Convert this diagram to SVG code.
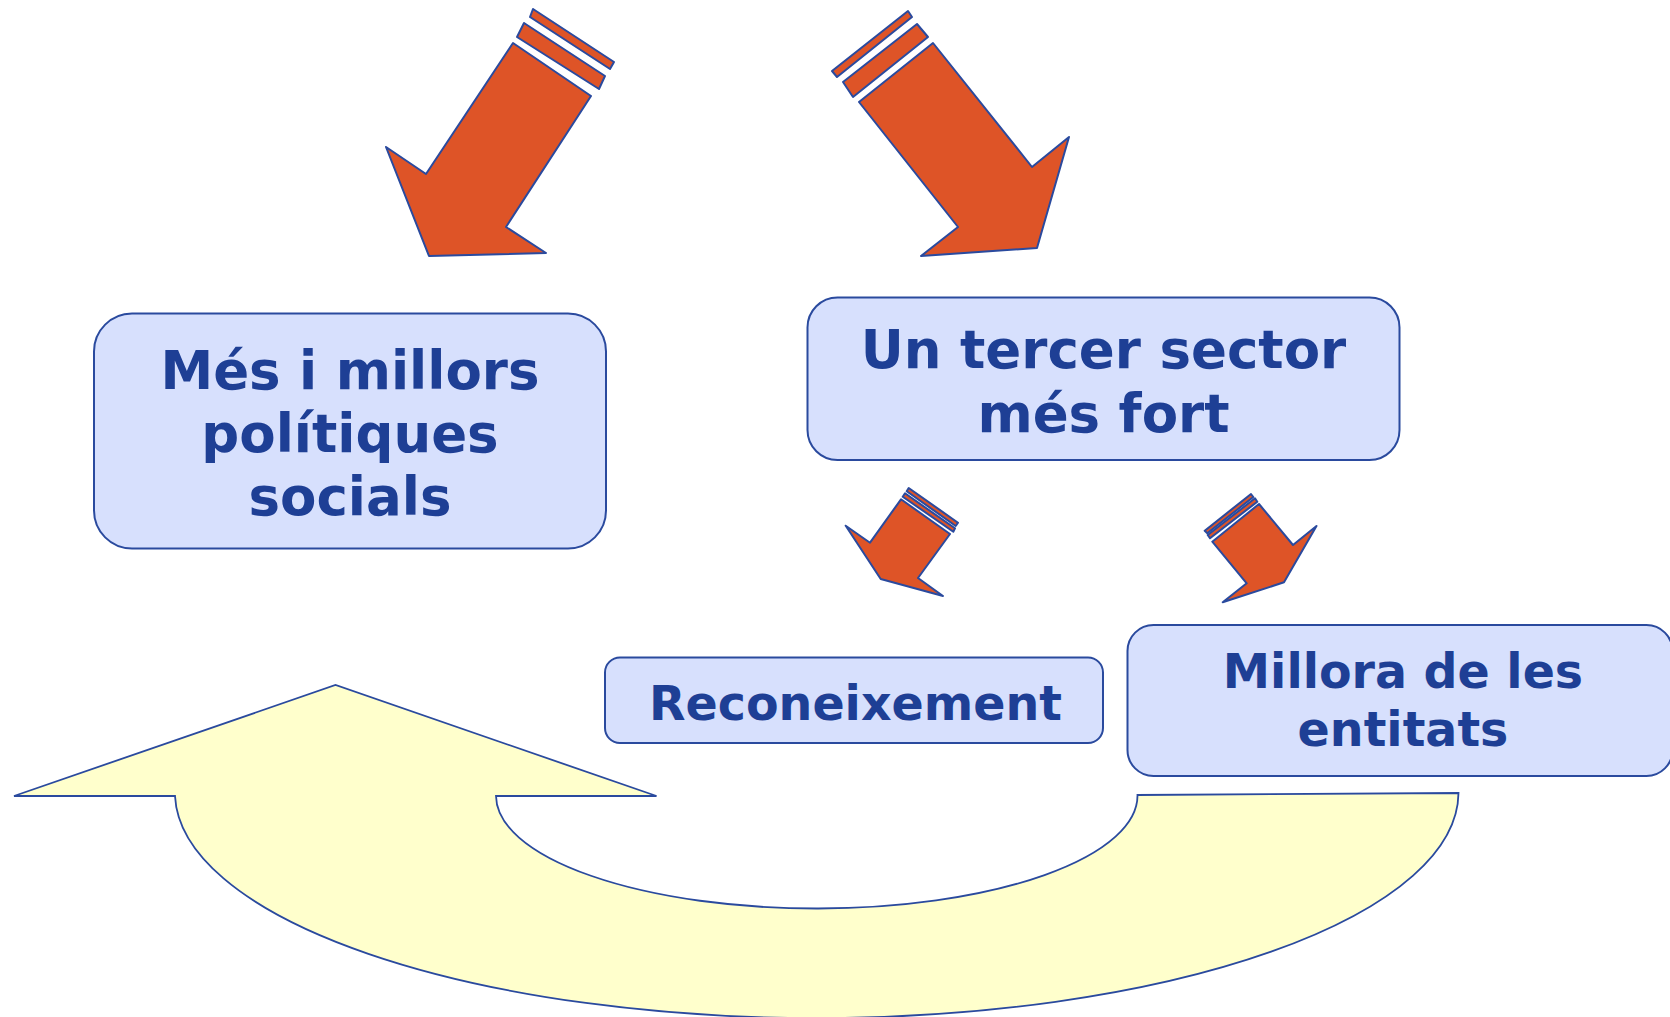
<svg xmlns="http://www.w3.org/2000/svg" width="1670" height="1017" viewBox="0 0 1670 1017">
<style>
.arr{fill:#DE5427;stroke:#2A4A9E;stroke-width:2;stroke-linejoin:round}
.box{fill:#D7E0FD;stroke:#2A4A9E;stroke-width:2}
.big{font-family:"DejaVu Sans",Verdana,sans-serif;font-weight:bold;font-size:53px;fill:#1E3F95;text-anchor:middle}
.mid{font-family:"DejaVu Sans",Verdana,sans-serif;font-weight:bold;font-size:47.5px;fill:#1E3F95;text-anchor:middle}
.loop{fill:#FFFFCC;stroke:#2A4A9E;stroke-width:1.8;stroke-linejoin:miter}
</style>
<rect width="1670" height="1017" fill="#FFFFFF"/>
<g id="connectors">
  <g id="arrow-top-left">
    <polygon class="arr" points="533,9 614,62 610,69 530,17"/>
    <polygon class="arr" points="524,23 605,76 599,89 517,37"/>
    <polygon class="arr" points="513,43 591,96 506,227 546,253 429,256 386,147 426,174"/>
  </g>
  <g id="arrow-top-right">
    <polygon class="arr" points="832,71 908,11 912,17 837,77"/>
    <polygon class="arr" points="843,82 917,24 928,37 853,97"/>
    <polygon class="arr" points="859,102 933,43 1032,167 1069,137 1037,248 921,256 958,227"/>
  </g>
  <g id="arrow-small-left">
    <polygon class="arr" points="908.7,488 958,522.7 955.7,526 906.7,491.3"/>
    <polygon class="arr" points="905,493.3 955,528.3 953.3,531.7 902.7,496.7"/>
    <polygon class="arr" points="901,499.3 950,534 918,578 943,596 880.7,579 845.7,525.7 870,542.7"/>
  </g>
  <g id="arrow-small-right">
    <polygon class="arr" points="1251,494 1253.3,497 1207.3,533.3 1204.7,530.7"/>
    <polygon class="arr" points="1255,498.3 1257.3,501.7 1210,538.3 1207.7,535"/>
    <polygon class="arr" points="1259,504 1293,545 1316.5,526 1284,582.3 1222.7,602.3 1246.7,583.3 1212.3,541.7"/>
  </g>
  <path id="loop-arrow" class="loop" d="M175,796 L14,796 L335.5,685 L656.5,796 L496,796 A320.7,113 0 0 0 1137.5,795 L1458.5,793 A641.8,226 0 0 1 175,796 Z"/>
</g>
<g id="node-politiques">
  <rect class="box" x="94" y="313.5" width="512" height="235" rx="38" ry="38"/>
  <text class="big" x="350" y="388.5">Més i millors</text>
  <text class="big" x="350" y="451.5">polítiques</text>
  <text class="big" x="350" y="514.5">socials</text>
</g>
<g id="node-tercer-sector">
  <rect class="box" x="807.5" y="297.5" width="592" height="162.5" rx="30" ry="30"/>
  <text class="big" x="1103.5" y="368">Un tercer sector</text>
  <text class="big" x="1103.5" y="431.5">més fort</text>
</g>
<g id="node-reconeixement">
  <rect class="box" x="605" y="657.5" width="498" height="85.5" rx="15" ry="15"/>
  <text class="mid" x="855.5" y="720">Reconeixement</text>
</g>
<g id="node-millora">
  <rect class="box" x="1127.5" y="625" width="545" height="151" rx="26" ry="26"/>
  <text class="mid" x="1403" y="688">Millora de les</text>
  <text class="mid" x="1403" y="746">entitats</text>
</g>
</svg>
